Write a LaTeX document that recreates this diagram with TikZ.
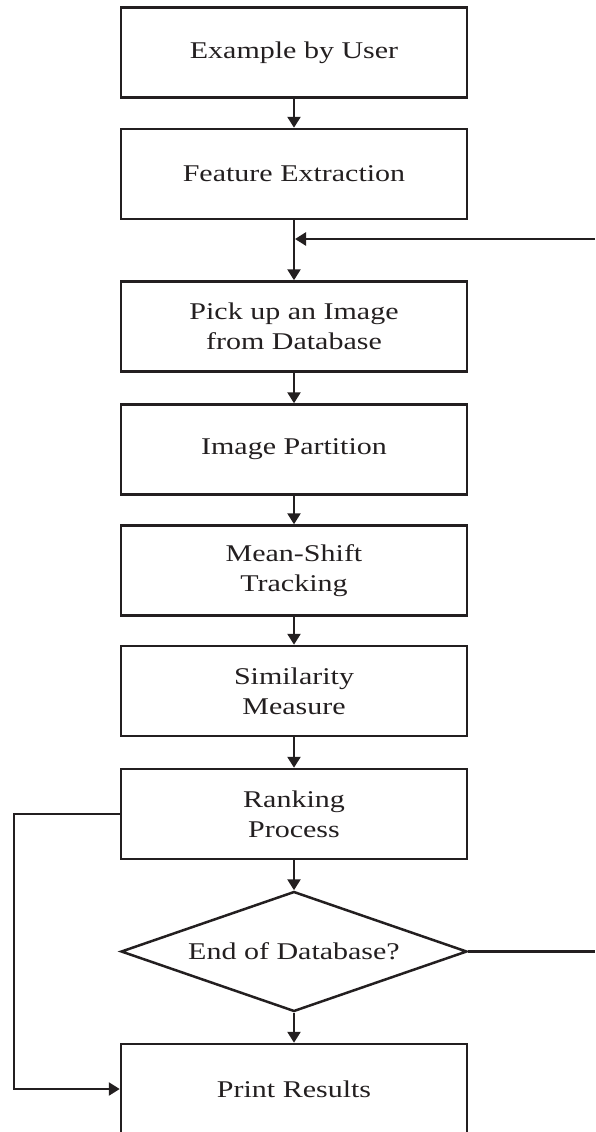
\documentclass[tikz,border=0pt]{standalone}
\usepackage{fontspec}
\setmainfont[FakeStretch=1.25]{Liberation Serif}
\usetikzlibrary{shapes.geometric,arrows.meta}

\definecolor{ink}{RGB}{35,31,32}

\tikzset{
	stepbox/.style={draw=ink, line width=2.5pt, rectangle, minimum width=346pt,
		minimum height=90pt, align=center, inner sep=0pt, text=ink},
	askbox/.style={draw=ink, line width=2.5pt, diamond, aspect=2.88,
		minimum width=346pt, minimum height=120pt, inner sep=0pt, text=ink},
	flow/.style={draw=ink, line width=2.5pt, -{Triangle[length=11pt,width=13pt]}},
	wire/.style={draw=ink, line width=2.5pt}
}

\begin{document}
\begin{tikzpicture}[x=1pt, y=-1pt, font=\fontsize{24}{30}\selectfont]

		\useasboundingbox (0,0) rectangle (595,1132);

		% Шаги обработки
		\node[stepbox] (user)  at (294, 52.5)  {Example by User};
		\node[stepbox] (feat)  at (294, 174)   {Feature Extraction};
		\node[stepbox] (pick)  at (294, 326.5) {Pick up an Image\\from Database};
		\node[stepbox] (part)  at (294, 449.5) {Image Partition};
		\node[stepbox] (track) at (294, 570.5) {Mean-Shift\\Tracking};
		\node[stepbox] (sim)   at (294, 691)   {Similarity\\Measure};
		\node[stepbox] (rank)  at (294, 814)   {Ranking\\Process};
		\node[askbox]  (endq)  at (294, 951.5) {End of Database?};
		\node[stepbox] (print) at (294, 1089)  {Print Results};

		% Точки на краю и точка слияния
		\coordinate (join)  at (295, 239);
		\coordinate (edgeA) at (595, 239);
		\coordinate (edgeB) at (595, 951.5);

		% Основной поток
		\draw[flow] (user) -- (feat);
		\draw[flow] (feat) -- (pick);
		\draw[flow] (pick) -- (part);
		\draw[flow] (part) -- (track);
		\draw[flow] (track) -- (sim);
		\draw[flow] (sim) -- (rank);
		\draw[flow] (rank) -- (endq);
		\draw[flow] (endq) -- (print);

		% Возврат к следующему изображению
		\draw[wire] (endq.east) -- (edgeB);
		\draw[flow] (edgeA) -- (join);

		% Обход слева
		\draw[flow] (rank.west) -- ++(-106, 0) |- (print.west);

	\end{tikzpicture}
\end{document}
